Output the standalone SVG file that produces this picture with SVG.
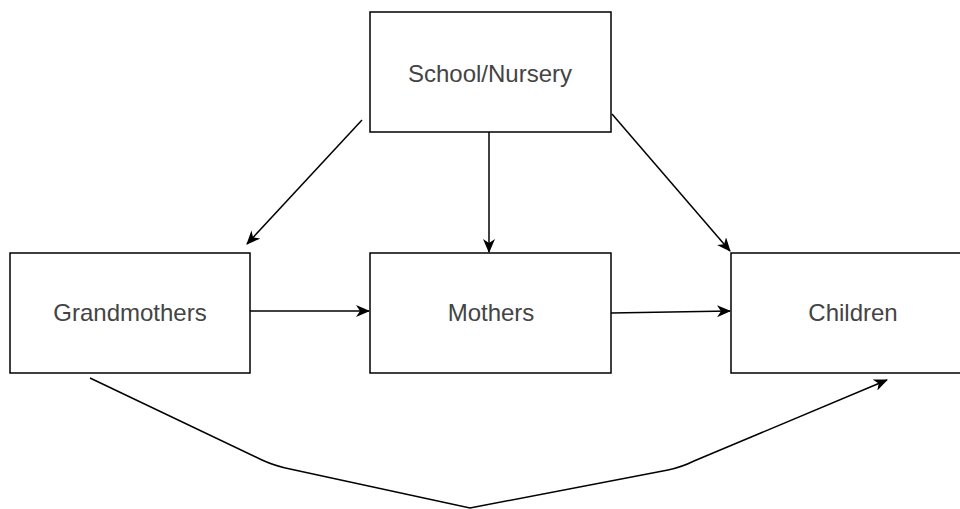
<svg xmlns="http://www.w3.org/2000/svg" width="960" height="509" viewBox="0 0 960 509">
<defs>
<style>
.box{fill:#fff;stroke:#000;stroke-width:1.5}
.lbl{font-family:"Liberation Sans",Arial,Helvetica,sans-serif;font-size:24px;fill:#444;text-anchor:middle;dominant-baseline:central}
.edge{fill:none;stroke:#000;stroke-width:1.5}
</style>
<marker id="arr" viewBox="0 0 14 12" refX="13" refY="6" markerWidth="14" markerHeight="12" markerUnits="userSpaceOnUse" orient="auto">
<path d="M0,0 L14,6 L0,12 L4,6 Z" fill="#000"/>
</marker>
</defs>
<rect width="960" height="509" fill="#fff"/>
<g id="school">
<rect class="box" x="370" y="12" width="241" height="120"/>
<text class="lbl" x="490" y="73">School/Nursery</text>
</g>
<g id="grandmothers">
<rect class="box" x="10" y="253" width="240" height="120"/>
<text class="lbl" x="130" y="312">Grandmothers</text>
</g>
<g id="mothers">
<rect class="box" x="370" y="253" width="241" height="120"/>
<text class="lbl" x="491" y="312">Mothers</text>
</g>
<g id="children">
<rect class="box" x="731" y="253" width="245" height="120"/>
<text class="lbl" x="853" y="312">Children</text>
</g>
<g id="connectors">
<path class="edge" marker-end="url(#arr)" d="M362,120 L247,244"/>
<path class="edge" marker-end="url(#arr)" d="M489,132 L489,252"/>
<path class="edge" marker-end="url(#arr)" d="M612,114 L730,251"/>
<path class="edge" marker-end="url(#arr)" d="M250,311 L369,311"/>
<path class="edge" marker-end="url(#arr)" d="M611,313 L730,311"/>
<path class="edge" marker-end="url(#arr)" d="M90,378 L262,460 Q275,466 290,469 L470,508 L668,470 Q682,467 694,461 L887,380"/>
</g>
</svg>
